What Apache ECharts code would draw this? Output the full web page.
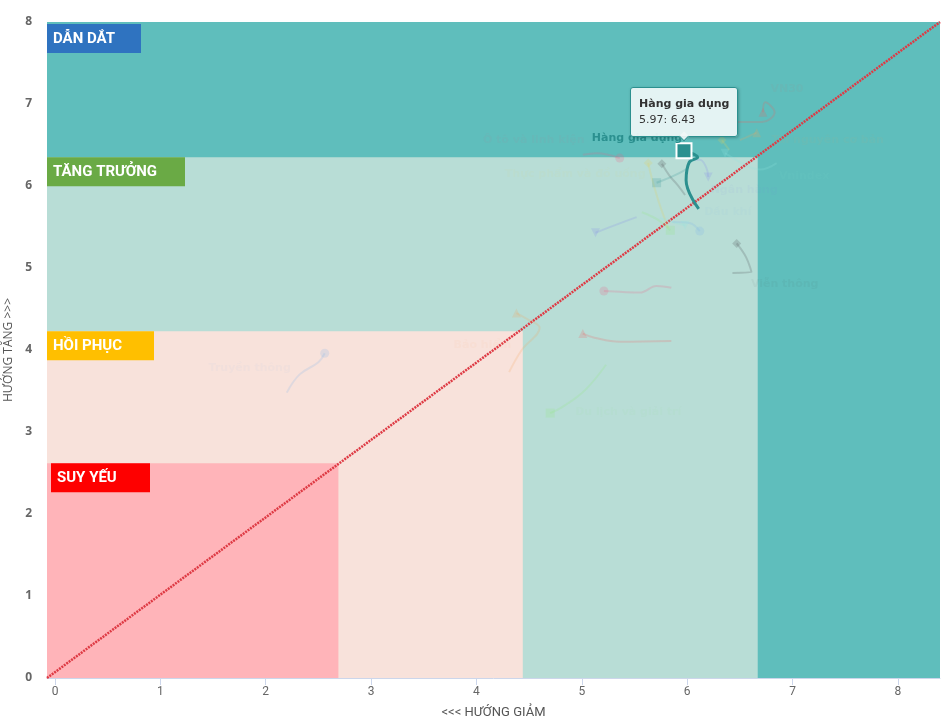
<!DOCTYPE html>
<html><head><meta charset="utf-8">
<script src="https://cdn.jsdelivr.net/npm/echarts@6/dist/echarts.min.js"></script>
<style>html,body{margin:0;padding:0;background:#fff}#c{width:948px;height:726px}</style>
</head><body><div id="c"></div>
<script>
// ---- axes ----
const xTicks = [0, 1, 2, 3, 4, 5, 6, 7, 8];
const xRange = [-0.076, 8.4];
const yRange = [0, 8];
const xTitle = '<<< HƯỚNG GIẢM';
const yTitle = 'HƯỚNG TĂNG >>>';

// ---- quadrant bands (upper-right corner of each band, outer -> inner) ----
const bandNames = ['DẪN DẮT', 'TĂNG TRƯỞNG', 'HỒI PHỤC', 'SUY YẾU'];
const bandX = [8.4, 6.67, 4.44, 2.69];
const bandY = [8, 6.35, 4.23, 2.62];

// ---- diagonal reference line ----
const diagX = [-0.076, 8.4];
const diagY = [0, 8];

// ---- sectors: trail points, oldest -> newest ----
const sectorNames = [
  'Dầu khí', 'Viễn thông', 'Du lịch và giải trí', 'Bảo hiểm', 'Ngân hàng',
  'Ô tô và linh kiện', 'Thực phẩm và đồ uống', 'Hàng gia dụng', 'VN30', 'Vnindex',
  'Truyền thông', 'Hóa chất', 'Xây dựng và vật liệu', 'Tài nguyên cơ bản', 'Bất động sản',
  'Dịch vụ tài chính', 'Hàng cá nhân', 'Y tế', 'Bán lẻ', 'Công nghệ thông tin'
];
const sectorX = [
  [5.86, 6.02, 6.12],
  [6.43, 6.61, 6.56, 6.47],
  [5.23, 5.03, 4.81, 4.70],
  [4.31, 4.43, 4.60, 4.49, 4.38],
  [6.01, 6.12, 6.18, 6.20],
  [5.01, 5.14, 5.36],
  [5.82, 5.74, 5.67, 5.63],
  [6.11, 5.99, 6.02, 6.10, 5.97],
  [6.47, 6.71, 6.83, 6.74, 6.72],
  [6.85, 6.69, 6.52, 6.36],
  [2.20, 2.32, 2.50, 2.56],
  [5.98, 5.91, 5.83, 5.76],
  [5.57, 5.72, 5.84],
  [6.50, 6.59, 6.66],
  [5.52, 5.31, 5.13],
  [5.85, 5.71, 5.55, 5.36, 5.21],
  [6.40, 6.33],
  [6.00, 5.88, 5.71],
  [5.85, 5.36, 5.12, 5.01],
  [5.74, 5.86, 5.98]
];
const sectorY = [
  [5.56, 5.55, 5.45],
  [4.94, 4.95, 5.13, 5.30],
  [3.82, 3.51, 3.30, 3.23],
  [3.73, 4.00, 4.27, 4.37, 4.45],
  [6.32, 6.32, 6.23, 6.11],
  [6.38, 6.40, 6.34],
  [5.49, 5.77, 6.07, 6.28],
  [5.72, 6.07, 6.29, 6.35, 6.43],
  [6.78, 6.78, 6.90, 7.02, 6.90],
  [6.28, 6.20, 6.28, 6.40],
  [3.48, 3.70, 3.85, 3.96],
  [5.89, 6.01, 6.13, 6.27],
  [5.68, 5.59, 5.46],
  [6.56, 6.61, 6.65],
  [5.62, 5.52, 5.43],
  [4.76, 4.78, 4.70, 4.71, 4.72],
  [6.44, 6.56],
  [6.21, 6.13, 6.04],
  [4.11, 4.10, 4.15, 4.20],
  [5.61, 5.56, 5.52]
];
const activeSector = 'Hàng gia dụng';

// ---- styling (not data) ----
const palette = ['#7cb5ec', '#434348', '#90ed7d', '#f7a35c', '#8085e9', '#f15c80', '#e4d354', '#2b908f', '#f45b5b', '#91e8e1'];
const shapes = ['circle', 'diamond', 'rect', 'triangle', 'triangleDown'];
const labelStyle = {
  'Dầu khí': [28, -19], 'Viễn thông': [48, 41], 'Ô tô và linh kiện': [-86, -18],
  'Thực phẩm và đồ uống': [-73, 11], 'Ngân hàng': [36, 13], 'Vnindex': [79, 23],
  'VN30': [24, -23], 'Tài nguyên cơ bản': [71, 7], 'Hàng gia dụng': [-47, -13],
  'Bảo hiểm': [-34, 32], 'Du lịch và giải trí': [78, -1], 'Truyền thông': [-75, 15]
};
const bandFill = ['#5fbebc', '#b8ddd6', '#f8e2db', '#ffb4b9'];
const bandTag = ['#2f73c0', '#6aaa45', '#ffbf00', '#fe0000'];
const bandTagW = [88, 132, 101, 93];
const bandTagOffset = [[0, 2], [0, 0], [0, 0], [4, 0]];
const tagFont = "Roboto,'Liberation Sans',sans-serif";
const axisFont = "Roboto,'Liberation Sans',sans-serif";

function rgba(hex, a) {
  const n = parseInt(hex.slice(1), 16);
  return 'rgba(' + (n >> 16 & 255) + ',' + (n >> 8 & 255) + ',' + (n & 255) + ',' + a + ')';
}

const series = [];
series.push({
  type: 'line', data: [], z: 1, silent: true,
  markArea: {
    silent: true,
    data: bandNames.map((nm, i) => [
      {
        coord: [xRange[0], yRange[0]],
        itemStyle: { color: bandFill[i], opacity: 1 },
        label: {
          show: true, position: 'insideTopLeft', distance: 0, offset: bandTagOffset[i],
          formatter: nm, color: '#fff', fontSize: 15, fontWeight: 'bold', fontFamily: tagFont,
          backgroundColor: bandTag[i], padding: [7, 0, 6, 6], lineHeight: 16, width: bandTagW[i]
        }
      },
      { coord: [bandX[i], bandY[i]] }
    ])
  }
});
series.push({
  type: 'line', z: 2, silent: true, symbol: 'none',
  data: diagX.map((x, i) => [x, diagY[i]]),
  lineStyle: { color: '#de3a44', width: 2.5, type: [2, 1] }
});
let activeIdx = -1, activeLast = 0;
sectorNames.forEach((nm, i) => {
  const col = palette[i % 10];
  const shp = shapes[i % 5];
  const isActive = nm === activeSector;
  const a = isActive ? 1 : 0.2;
  const xs = sectorX[i], ys = sectorY[i];
  const last = xs.length - 1;
  const lab = labelStyle[nm];
  const data = xs.map((x, j) => {
    const item = { value: [x, ys[j]] };
    if (j !== last) { item.symbol = 'none'; }
    else {
      item.symbol = shp === 'triangleDown' ? 'triangle' : shp;
      item.symbolRotate = shp === 'triangleDown' ? 180 : 0;
      if (lab) {
        item.label = {
          show: true, position: 'inside', offset: lab, formatter: nm,
          color: rgba(col, isActive ? 1 : 0.28), fontSize: 11, fontWeight: 'bold',
          fontFamily: "'DejaVu Sans',Verdana,sans-serif"
        };
      }
    }
    return item;
  });
  if (isActive) { activeIdx = series.length; activeLast = last; }
  series.push({
    type: 'line', name: nm, z: isActive ? 6 : 3, smooth: 0.4,
    data: data,
    symbolSize: isActive ? 15 : 9,
    lineStyle: { color: col, width: isActive ? 3 : 2, opacity: a },
    itemStyle: isActive ? { color: col, borderColor: '#fff', borderWidth: 2, opacity: 1 } : { color: col, opacity: a },
    emphasis: { disabled: true },
    animation: false
  });
});

const chart = echarts.init(document.getElementById('c'));
chart.setOption({
  animation: false,
  grid: { left: 47, right: 8, top: 22, bottom: 48, containLabel: false, outerBoundsMode: 'none' },
  xAxis: {
    type: 'value', min: xRange[0], max: xRange[1], splitNumber: 8,
    name: xTitle, nameLocation: 'middle', nameGap: 28,
    nameTextStyle: { color: '#555', fontSize: 13, fontFamily: axisFont },
    axisLine: { show: true, lineStyle: { color: '#ccd6eb' } },
    axisTick: { show: true, length: 7, lineStyle: { color: '#ccd6eb' }, customValues: xTicks },
    axisLabel: { color: '#666', fontSize: 12, fontFamily: axisFont, margin: 8, customValues: xTicks },
    splitLine: { show: false }
  },
  yAxis: {
    type: 'value', min: yRange[0], max: yRange[1], interval: 1,
    name: yTitle, nameLocation: 'middle', nameGap: 32,
    nameTextStyle: { color: '#555', fontSize: 12, fontFamily: "'Open Sans',sans-serif" },
    axisLine: { show: false }, axisTick: { show: false },
    axisLabel: { color: '#666', fontSize: 12, fontWeight: 'bold', fontFamily: "'Open Sans',sans-serif", margin: 15 },
    splitLine: { show: false }
  },
  tooltip: {
    trigger: 'item', triggerOn: 'none', alwaysShowContent: true, position: 'top',
    transitionDuration: 0, showDelay: 0,
    backgroundColor: 'rgba(240,247,247,0.92)', borderColor: '#2b908f', borderWidth: 1, borderRadius: 3,
    padding: [8, 8],
    textStyle: { color: '#333', fontSize: 11, fontFamily: "'DejaVu Sans',Verdana,sans-serif" },
    extraCssText: 'box-shadow:1px 1px 3px rgba(0,0,0,0.25);line-height:16px;margin-top:5px;',
    formatter: p => '<b>' + p.seriesName + '</b><br/>' + p.value[0].toFixed(2) + ': ' + p.value[1].toFixed(2)
  },
  series: series
});
setTimeout(() => chart.dispatchAction({ type: 'showTip', seriesIndex: activeIdx, dataIndex: activeLast }), 50);
</script></body></html>
